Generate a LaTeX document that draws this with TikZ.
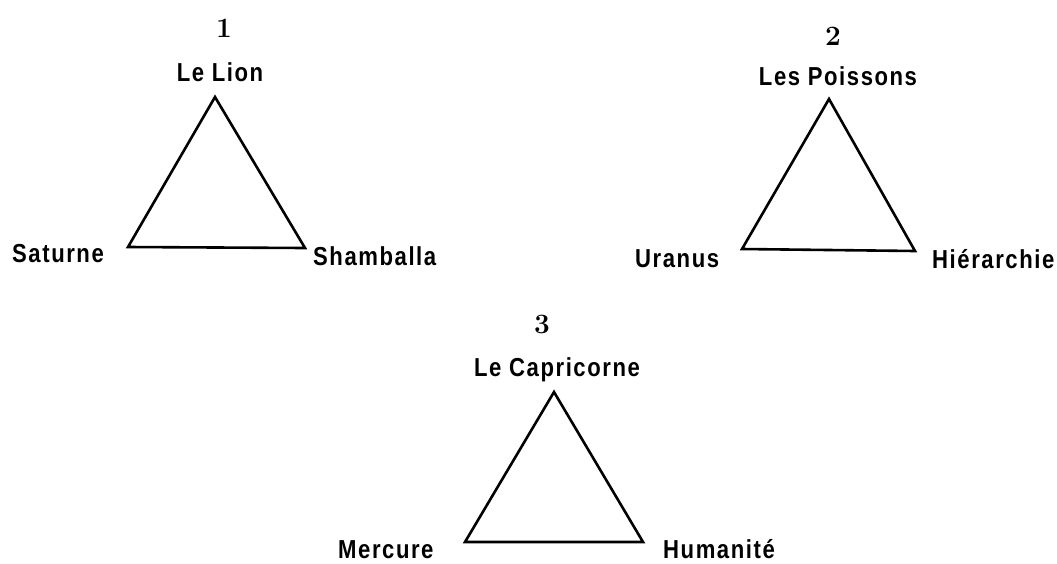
\documentclass[tikz,border=0pt]{standalone}
\usepackage{fontspec}
\newfontfamily\labelfont[FakeStretch=0.85,LetterSpace=6]{Liberation Sans}
\begin{document}
\begin{tikzpicture}[x=1pt,y=-1pt,
  lbl/.style={inner sep=0pt,font=\labelfont\bfseries\fontsize{26}{28}\selectfont},
  num/.style={inner sep=0pt,anchor=base,font=\bfseries\fontsize{28}{30}\selectfont},
  tri/.style={line width=2.6pt,line join=miter}]
\useasboundingbox (0,0) rectangle (1057,563);
% Triangle 1
\coordinate (a1) at (215,97);
\coordinate (b1) at (128,247);
\coordinate (c1) at (305,248);
\draw[tri] (a1) -- (b1) -- (c1) -- cycle;
\node[num] (n1) at (224,37) {1};
\node[lbl,anchor=base] (t1) at (220,81) {Le Lion};
\node[lbl,anchor=base west] (l1) at (12,262) {Saturne};
\node[lbl,anchor=base west] (r1) at (313,265) {Shamballa};
% Triangle 2
\coordinate (a2) at (829,99);
\coordinate (b2) at (742,249);
\coordinate (c2) at (915,251);
\draw[tri] (a2) -- (b2) -- (c2) -- cycle;
\node[num] (n2) at (833,45) {2};
\node[lbl,anchor=base] (t2) at (838,85) {Les Poissons};
\node[lbl,anchor=base west] (l2) at (635,267) {Uranus};
\node[lbl,anchor=base west] (r2) at (932,268) {Hiérarchie};
% Triangle 3
\coordinate (a3) at (554,392);
\coordinate (b3) at (465,542);
\coordinate (c3) at (643,542);
\draw[tri] (a3) -- (b3) -- (c3) -- cycle;
\node[num] (n3) at (542,333) {3};
\node[lbl,anchor=base] (t3) at (557,376) {Le Capricorne};
\node[lbl,anchor=base west] (l3) at (338,558) {Mercure};
\node[lbl,anchor=base west] (r3) at (663,558) {Humanité};
\end{tikzpicture}
\end{document}
